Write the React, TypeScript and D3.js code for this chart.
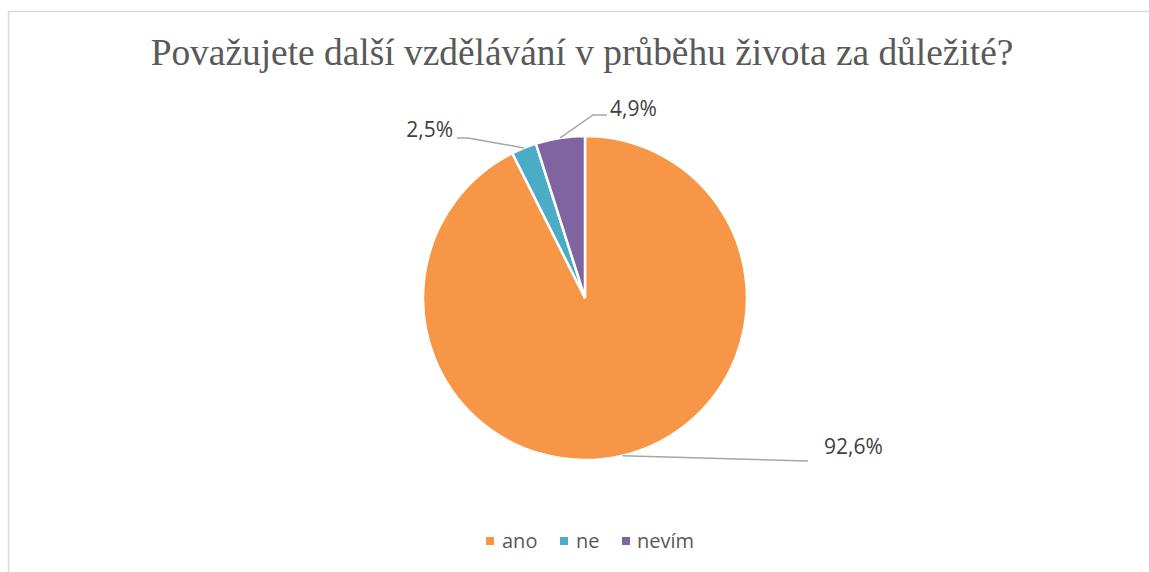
import React from "react";
import * as d3 from "d3";

const categories = ["ano", "ne", "nevím"];
const values = [92.6, 2.5, 4.9];
const labels = ["92,6%", "2,5%", "4,9%"];
const colors = ["#F79646", "#4BACC6", "#8064A2"];

const W = 1149;
const H = 572;
const CX = 585;
const CY = 298;
const R = 162;

// leader line geometry per slice: elbow point and label anchor (layout, not data)
const labelLayout = [
  { elbow: [808, 461], end: [808, 461], tx: 824, ty: 454, anchor: "start" },
  { elbow: [468, 138], end: [457, 138], tx: 453, ty: 137, anchor: "end" },
  { elbow: [593, 115], end: [607, 115], tx: 610, ty: 116, anchor: "start" },
];

export default function App() {
  const pie = d3
    .pie<number>()
    .sort(null)
    .value((d) => d)(values);
  const arc = d3.arc<d3.PieArcDatum<number>>().innerRadius(0).outerRadius(R);

  const legendFont = "'Open Sans', sans-serif";
  const legendItems = [
    { x: 486, tx: 502 },
    { x: 560, tx: 576 },
    { x: 622, tx: 637 },
  ];

  return (
    <svg
      width={W}
      height={H}
      style={{ position: "absolute", left: 0, top: 0, background: "#fff" }}
    >
      <rect x={8.5} y={11.5} width={1200} height={600} fill="#fff" stroke="#D9D9D9" strokeWidth={1.5} />
      <text
        x={582}
        y={65}
        textAnchor="middle"
        fontFamily="'Liberation Serif', 'Times New Roman', serif"
        fontSize={37.4}
        fill="#595959"
      >
        Považujete další vzdělávání v průběhu života za důležité?
      </text>
      <g transform={`translate(${CX},${CY})`}>
        {pie.map((p, i) => (
          <path key={i} d={arc(p) || ""} fill={colors[i]} stroke="#fff" strokeWidth={2.5} />
        ))}
      </g>
      {pie.map((p, i) => {
        const mid = (p.startAngle + p.endAngle) / 2;
        const ax = CX + R * Math.sin(mid);
        const ay = CY - R * Math.cos(mid);
        const L = labelLayout[i];
        const pts: [number, number][] = [
          [ax, ay],
          L.elbow as [number, number],
          L.end as [number, number],
        ];
        const line = d3.line()(pts) || "";
        return (
          <g key={"l" + i}>
            <path d={line} fill="none" stroke="#A6A6A6" strokeWidth={1.5} />
            <text
              x={L.tx}
              y={L.ty}
              textAnchor={L.anchor as any}
              fontFamily={legendFont}
              fontSize={21}
              fill="#404040"
            >
              {labels[i]}
            </text>
          </g>
        );
      })}
      {categories.map((c, i) => (
        <g key={"lg" + i}>
          <rect x={legendItems[i].x} y={537} width={8} height={8} fill={colors[i]} />
          <text x={legendItems[i].tx} y={548} fontFamily={legendFont} fontSize={20} fill="#595959">
            {c}
          </text>
        </g>
      ))}
    </svg>
  );
}
